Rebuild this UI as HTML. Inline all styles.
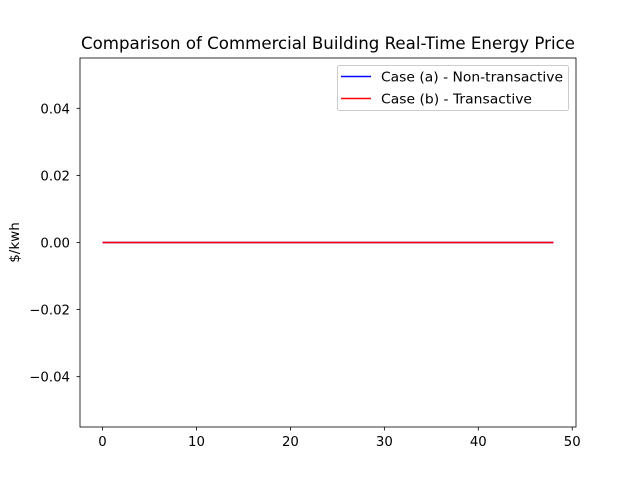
<!DOCTYPE html>
<html><head><meta charset="utf-8"><style>
html,body{margin:0;padding:0;background:#fff;}
svg{display:block;font-family:"DejaVu Sans","Liberation Sans",sans-serif;}
</style></head><body>
<svg id="chart" width="640" height="480" viewBox="0 0 640 480">
<rect width="640" height="480" fill="#fff"/>
<text x="328" y="49" text-anchor="middle" font-size="16.6" textLength="494" lengthAdjust="spacingAndGlyphs">Comparison of Commercial Building Real-Time Energy Price</text>
<g id="plot"></g>
<text transform="translate(19,242.5) rotate(-90)" text-anchor="middle" font-size="13.5">$/kwh</text>
</svg>
<script>
const xValues = [0,4,8,12,16,20,24,28,32,36,40,44,48];
const seriesA = [0,0,0,0,0,0,0,0,0,0,0,0,0];
const seriesB = [0,0,0,0,0,0,0,0,0,0,0,0,0];
const xTicks = [0,10,20,30,40,50];
const yTicks = [-0.04,-0.02,0,0.02,0.04];
const yTickLabels = ["\u22120.04","\u22120.02","0.00","0.02","0.04"];

const L=80,R=576,T=58,B=427;
const xMin=-2.4,xMax=50.4,yMin=-0.055,yMax=0.055;
const sx=v=>L+(v-xMin)/(xMax-xMin)*(R-L);
const sy=v=>B-(v-yMin)/(yMax-yMin)*(B-T);
const NS="http://www.w3.org/2000/svg";
const g=document.getElementById('plot');
function mk(tag,attrs,parent){const e=document.createElementNS(NS,tag);for(const k in attrs)e.setAttribute(k,attrs[k]);(parent||g).appendChild(e);return e;}

xTicks.forEach(t=>{
  const x=sx(t);
  const tk=mk('line',{x1:x,x2:x,y1:B,y2:B+3.5,stroke:'#000','stroke-width':0.8});
  
  
  const tx=mk('text',{x:x,y:B+19,'text-anchor':'middle','font-size':13.3});
  tx.textContent=t;
  
  
});
yTicks.forEach((t,i)=>{
  const y=sy(t);
  const tk=mk('line',{x1:L-3.5,x2:L,y1:y,y2:y,stroke:'#000','stroke-width':0.8});
  
  
  const tx=mk('text',{x:L-10,y:y+5,'text-anchor':'end','font-size':13.3});
  tx.textContent=yTickLabels[i];
  
  
});
function line(vals,color,name){
  const p=mk('polyline',{points:xValues.map((x,i)=>sx(x)+','+sy(vals[i])).join(' '),fill:'none',stroke:color,'stroke-width':1.5});
  
  
}
line(seriesA,'#0000ff','series-case-a-line');
line(seriesB,'#ff0000','series-case-b-line');

const frame=mk('rect',{x:L,y:T,width:R-L,height:B-T,fill:'none',stroke:'#000','stroke-width':0.8});



const lg=mk('g',{});


mk('rect',{x:337.5,y:65.5,width:231,height:45,rx:2,fill:'#fff','fill-opacity':0.8,stroke:'#ccc','stroke-width':1},lg);
const entries=[['Case (a) - Non-transactive','#0000ff',76.5,182],['Case (b) - Transactive','#ff0000',98.5,151]];
entries.forEach(([label,c,y,w])=>{
  const e=mk('g',{},lg);
  
  
  mk('line',{x1:341,x2:371,y1:y,y2:y,stroke:c,'stroke-width':1.5},e);
  const t=mk('text',{x:381,y:y+5,'font-size':13.5,textLength:w,lengthAdjust:'spacingAndGlyphs'},e);
  t.textContent=label;
});
</script>
</body></html>
